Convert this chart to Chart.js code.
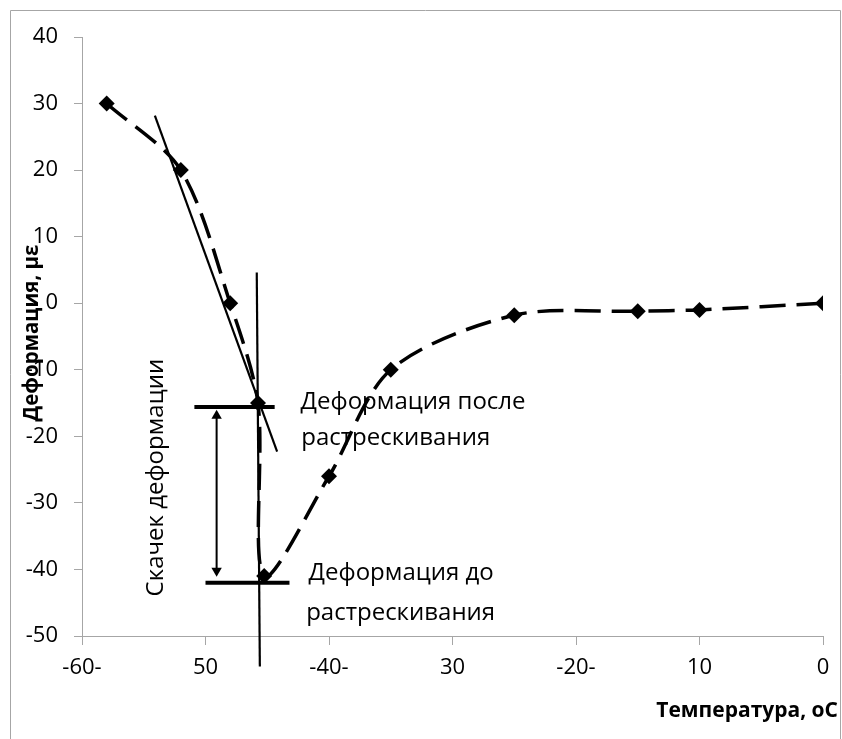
<!DOCTYPE html>
<html>
<head>
<meta charset="utf-8">
<script src="https://cdn.jsdelivr.net/npm/chart.js@4"></script>
<style>
  body { margin: 0; background: #fff; }
  #wrap { width: 842px; height: 739px; position: relative; }
</style>
</head>
<body>
<div id="wrap"><canvas id="chart"></canvas></div>
<script>
// Temperature (°C) vs strain (µε)
const temperature = [-58, -52, -48, -45.75, -45.25, -40, -35, -25, -15, -10, 0];
const strain = [30, 20, 0, -15, -41, -26, -10, -1.8, -1.2, -1, 0];

// tick labels as they appear on the original x axis
const xTickLabels = { "-60": "-60-", "-50": "50", "-40": "-40-", "-30": "30", "-20": "-20-", "-10": "10", "0": "0" };

// construction lines (data coordinates)
const tangentX = [-54.1, -44.2];
const tangentY = [28.2, -22.3];
const crackX = [-45.85, -45.6];
const crackY = [4.6, -54.6];
const afterX = [-50.9, -44.4];
const afterY = [-15.6, -15.6];
const beforeX = [-50.0, -43.2];
const beforeY = [-42.0, -42.0];
const jumpX = [-49.1, -49.1];
const jumpY = [-16.9, -40.2];

// annotation texts: [x, y, text]
const notes = [
  [-42.3, -14.8, "Деформация после"],
  [-42.25, -20.3, "растрескивания"],
  [-41.65, -40.5, "Деформация до"],
  [-41.85, -46.6, "растрескивания"],
];
const jumpLabel = { x: -54.0, y: -26.2, text: "Скачек деформации" };

const FONT = "'Open Sans', sans-serif";
const toPts = (xs, ys) => xs.map((x, i) => ({ x, y: ys[i] }));

function lineSet(xs, ys, width, extra) {
  return Object.assign({
    data: toPts(xs, ys),
    showLine: true,
    borderColor: "#000",
    borderWidth: width,
    pointRadius: 0,
    tension: 0,
  }, extra || {});
}

const decorPlugin = {
  id: "decor",
  beforeDraw(chart) {
    const ctx = chart.ctx;
    ctx.save();
    ctx.fillStyle = "#fff";
    ctx.fillRect(0, 0, chart.width, chart.height);
    ctx.strokeStyle = "#a6a6a6";
    ctx.lineWidth = 1;
    ctx.beginPath();
    ctx.moveTo(10.5, chart.height);
    ctx.lineTo(10.5, 10.5);
    ctx.lineTo(840.5, 10.5);
    ctx.lineTo(840.5, chart.height);
    ctx.stroke();
    ctx.restore();
  },
  afterDraw(chart) {
    const { ctx, scales: { x, y } } = chart;
    ctx.save();
    ctx.fillStyle = "#000";
    ctx.textBaseline = "middle";
    ctx.textAlign = "left";
    ctx.font = "24px " + FONT;
    for (const [nx, ny, t] of notes) {
      ctx.fillText(t, x.getPixelForValue(nx), y.getPixelForValue(ny));
    }
    // rotated label next to the arrow
    ctx.save();
    ctx.translate(x.getPixelForValue(jumpLabel.x), y.getPixelForValue(jumpLabel.y));
    ctx.rotate(-Math.PI / 2);
    ctx.textAlign = "center";
    ctx.fillText(jumpLabel.text, 0, 0);
    ctx.restore();
    // axis titles
    ctx.font = "bold 20.5px " + FONT;
    ctx.save();
    ctx.translate(32, 333);
    ctx.rotate(-Math.PI / 2);
    ctx.textAlign = "center";
    ctx.fillText("Деформация, με", 0, 0);
    ctx.restore();
    ctx.font = "bold 21px " + FONT;
    ctx.textAlign = "right";
    ctx.fillText("Температура, оС", 838, 711);
    ctx.restore();
  },
};

new Chart(document.getElementById("chart"), {
  type: "scatter",
  data: {
    datasets: [
      lineSet(tangentX, tangentY, 2.2),
      lineSet(crackX, crackY, 2.2, { clip: false }),
      lineSet(afterX, afterY, 4),
      lineSet(beforeX, beforeY, 4),
      lineSet(jumpX, jumpY, 2, {
        pointRadius: 6,
        pointStyle: "triangle",
        pointRotation: [0, 180],
        pointBackgroundColor: "#000",
        pointBorderWidth: 0,
      }),
      {
        data: toPts(temperature, strain),
        showLine: true,
        borderColor: "#000",
        borderWidth: 3.5,
        borderDash: [26, 11],
        tension: 0.3,
        pointStyle: "rectRot",
        pointRadius: 8,
        pointBackgroundColor: "#000",
        pointBorderWidth: 0,
      },
    ],
  },
  options: {
    responsive: true,
    maintainAspectRatio: false,
    animation: false,
    events: [],
    layout: { padding: { left: 10, top: 37, right: 19, bottom: 0 } },
    plugins: { legend: { display: false }, tooltip: { enabled: false } },
    scales: {
      x: {
        type: "linear",
        min: -60,
        max: 0,
        afterFit: (s) => { s.height = 103; },
        border: { color: "#a6a6a6", width: 1 },
        grid: { drawOnChartArea: false, color: "#a6a6a6", tickLength: 9 },
        ticks: {
          stepSize: 10,
          padding: 10,
          color: "#000",
          font: { family: FONT, size: 22 },
          callback: (v) => xTickLabels[String(v)] ?? "",
        },
      },
      y: {
        min: -50,
        max: 40,
        afterFit: (s) => { s.width = 72; },
        border: { color: "#a6a6a6", width: 1 },
        grid: { drawOnChartArea: false, color: "#a6a6a6", tickLength: 8 },
        ticks: {
          stepSize: 10,
          padding: 16,
          color: "#000",
          font: { family: FONT, size: 22 },
        },
      },
    },
  },
  plugins: [decorPlugin],
});
</script>
</body>
</html>
